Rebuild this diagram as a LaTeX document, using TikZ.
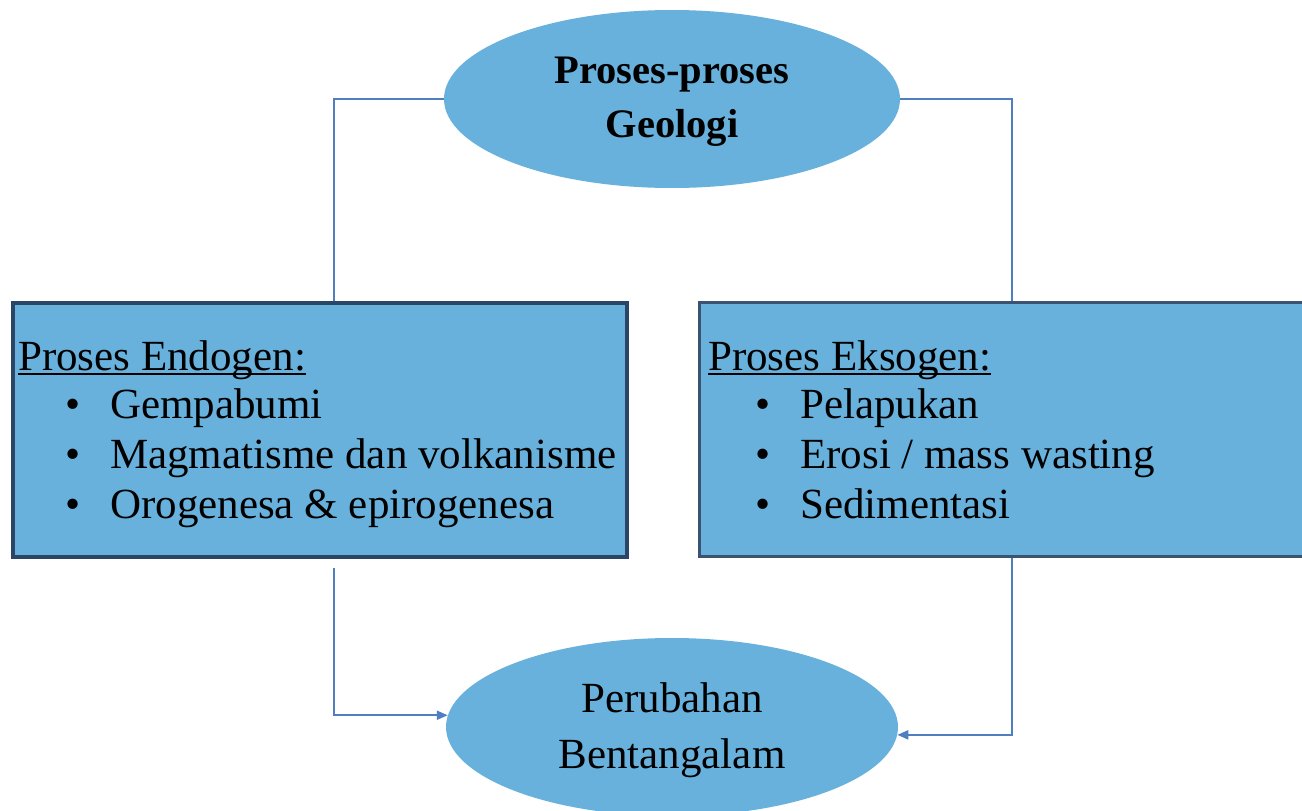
\documentclass[tikz,border=0pt]{standalone}
\usepackage{fontspec}
\setmainfont{Liberation Serif}
\usetikzlibrary{shapes.geometric,arrows.meta,calc}
\definecolor{fillblue}{HTML}{67B1DC}
\definecolor{connblue}{HTML}{4F7FC0}
\definecolor{navy}{HTML}{2B4566}
\definecolor{navytwo}{HTML}{3C5272}
\newcommand{\myul}[1]{\setbox0\hbox{#1}\rlap{\rule[-5pt]{\wd0}{2pt}}\box0}
\newcommand{\bitem}[1]{\makebox[92pt][l]{\hspace{47pt}\textbullet}#1}
\begin{document}
\begin{tikzpicture}[x=1pt,y=-1pt,
  ell/.style={ellipse, fill=fillblue, inner sep=0pt},
  ebox/.style={rectangle, fill=fillblue, inner sep=0pt, anchor=north west},
  txt/.style={inner sep=0pt, anchor=base west, font=\fontsize{43}{50}\selectfont},
  ctxt/.style={inner sep=0pt, anchor=base, font=\fontsize{43}{50}\selectfont},
  ttl/.style={inner sep=0pt, anchor=base, font=\fontsize{40.5}{48}\selectfont\bfseries},
  conn/.style={draw=connblue, line width=2pt},
  arr/.style={conn, -{Triangle[length=11pt,width=9pt]}}]
\useasboundingbox (0,0) rectangle (1302,811);
\clip (0,0) rectangle (1302,811);
\fill[white] (0,0) rectangle (1302,811);

\node[ell, minimum width=456pt, minimum height=178pt] (top) at (672,99) {};
\node[ell, minimum width=452pt, minimum height=178pt] (bot) at (672,727) {};
\node[ebox, draw=navy, line width=3.5pt, minimum width=614pt, minimum height=254pt] (left) at (11,301) {};
\node[ebox, draw=navytwo, line width=2.5pt, minimum width=640pt, minimum height=254pt] (right) at (698,301) {};

\coordinate (lx) at (334,0);
\coordinate (rx) at (1012,0);

\draw[conn] (top.west) -| (lx |- left.north);
\draw[conn] (top.east) -| (rx |- right.north);
\draw[arr] ($(lx |- left.south)+(0,9)$) |- (bot.177);
\draw[arr] (rx |- right.south) |- (bot.358);

\node[ttl] (t1) at (672,83) {Proses-proses};
\node[ttl] (t2) at (672,137) {Geologi};

\node[txt] (l0) at (18,370) {\myul{Proses Endogen:}};
\node[txt] (l1) at (18,418) {\bitem{Gempabumi}};
\node[txt] (l2) at (18,468) {\bitem{Magmatisme dan volkanisme}};
\node[txt] (l3) at (18,518) {\bitem{Orogenesa \& epirogenesa}};

\node[txt] (r0) at (708,370) {\myul{Proses Eksogen:}};
\node[txt] (r1) at (708,418) {\bitem{Pelapukan}};
\node[txt] (r2) at (708,468) {\bitem{Erosi / mass wasting}};
\node[txt] (r3) at (708,518) {\bitem{Sedimentasi}};

\node[ctxt] (b1) at (672,712) {Perubahan};
\node[ctxt] (b2) at (672,768) {Bentangalam};
\end{tikzpicture}
\end{document}
